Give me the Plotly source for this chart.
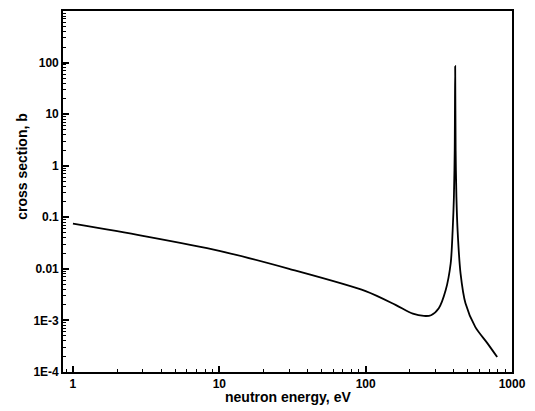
import plotly.graph_objects as go

# neutron energy (eV) and cross section (b)
energy = [1.0, 3.0, 10.0, 30.0, 100, 160, 210, 250, 280, 316, 352,
          381, 393, 401, 406, 409, 412, 417, 425, 445, 481, 562, 678, 792]
sigma = [0.075, 0.0437, 0.0224, 0.0100, 0.0037, 0.0020, 0.00135, 0.00122, 0.00126,
         0.00172, 0.00383, 0.0127, 0.055, 0.25, 2.0, 85, 2.0, 0.25, 0.055, 0.0082,
         0.00215, 0.00074, 0.000363, 0.000195]

x_tickvals = [1, 10, 100, 1000]
x_ticktext = ["1", "10", "100", "1000"]
y_tickvals = [1e-4, 1e-3, 1e-2, 1e-1, 1, 10, 100]
y_ticktext = ["1E-4", "1E-3", "0.01", "0.1", "1", "10", "100"]

x_minor = [m * 10 ** d for d in range(-1, 3) for m in range(2, 10)]
y_minor = [m * 10.0 ** d for d in range(-4, 3) for m in range(2, 10)]

FONT = "Liberation Sans"
XR = [-0.068, 3.0]
YR = [-4, 3.0]

fig = go.Figure()
fig.add_trace(go.Scatter(x=energy, y=sigma, mode="lines",
                         line=dict(color="black", width=1.8, shape="spline", smoothing=0.8),
                         showlegend=False, hoverinfo="skip"))
# helper trace so that the minor-tick axes exist
fig.add_trace(go.Scatter(x=energy, y=sigma, mode="lines", xaxis="x2", yaxis="y2",
                         line=dict(width=0), opacity=0, showlegend=False, hoverinfo="skip"))

axis_common = dict(showline=True, linecolor="black", linewidth=1.6, mirror=True,
                   showgrid=False, zeroline=False, ticks="inside", ticklen=6,
                   tickwidth=1.6, tickcolor="black",
                   tickfont=dict(family=FONT, size=12, color="black", weight="bold"))

minor_common = dict(ticks="inside", ticklen=3, tickwidth=1.2, tickcolor="black",
                    showticklabels=False, showgrid=False, zeroline=False, showline=False)

fig.update_layout(
    xaxis=dict(type="log", range=XR, tickmode="array", tickvals=x_tickvals,
               ticktext=x_ticktext, **axis_common),
    yaxis=dict(type="log", range=YR, tickmode="array", tickvals=y_tickvals,
               ticktext=y_ticktext, **axis_common),
    xaxis2=dict(type="log", range=XR, overlaying="x", anchor="y2", side="bottom",
                tickmode="array", tickvals=x_minor, **minor_common),
    yaxis2=dict(type="log", range=YR, overlaying="y", anchor="x2", side="left",
                tickmode="array", tickvals=y_minor, **minor_common),
)

fig.add_annotation(text="neutron energy, eV", xref="paper", yref="paper",
                   x=0.5, y=-0.069, xanchor="center", yanchor="middle", showarrow=False,
                   font=dict(family=FONT, size=14, color="black", weight="bold"))
fig.add_annotation(text="cross section, b", xref="paper", yref="paper",
                   x=-0.09, y=0.57, xanchor="center", yanchor="middle", showarrow=False,
                   textangle=-90,
                   font=dict(family=FONT, size=14, color="black", weight="bold"))

fig.update_layout(width=535, height=411,
                  margin=dict(l=63, r=18, t=9, b=39),
                  paper_bgcolor="white", plot_bgcolor="white")

fig.write_html("out.html")
